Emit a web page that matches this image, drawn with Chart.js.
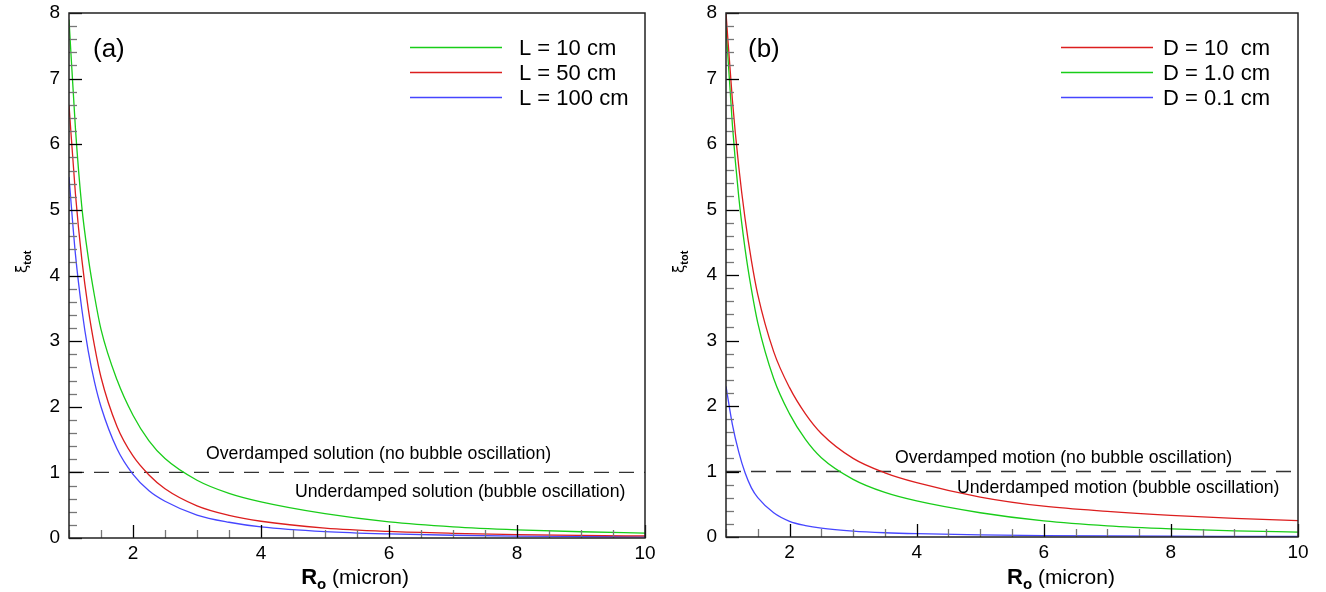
<!DOCTYPE html>
<html>
<head>
<meta charset="utf-8">
<script src="https://cdn.jsdelivr.net/npm/chart.js@4.4.0/dist/chart.umd.min.js"></script>
<style>
body{margin:0;background:#fff;width:1326px;height:592px;overflow:hidden}
.box{position:absolute;top:0;width:663px;height:592px}
</style>
</head>
<body>
<div class="box" style="left:0"><canvas id="chartA"></canvas></div>
<div class="box" style="left:663px"><canvas id="chartB"></canvas></div>
<script>
// R_o in micron, same grid for every curve
const radius = [1, 1.1, 1.2, 1.3, 1.4, 1.5, 1.75, 2, 2.25, 2.5, 3, 3.5, 4, 5, 6, 7, 8, 9, 10];

// panel (a) - tube length L
const xiL10 = [7.9, 6.25, 5.05, 4.28, 3.68, 3.18, 2.41, 1.87, 1.48, 1.21, 0.88, 0.68, 0.55, 0.37, 0.245, 0.17, 0.125, 0.095, 0.075];
const xiL50 = [6.6, 5.25, 4.25, 3.5, 2.92, 2.45, 1.7, 1.25, 0.96, 0.75, 0.49, 0.345, 0.255, 0.152, 0.1, 0.071, 0.052, 0.04, 0.031];
const xiL100 = [5.5, 4.33, 3.49, 2.85, 2.37, 2.0, 1.36, 0.97, 0.72, 0.56, 0.35, 0.24, 0.17, 0.098, 0.062, 0.042, 0.03, 0.023, 0.017];
const labelsA = ['L = 10 cm', 'L = 50 cm', 'L = 100 cm'];

// panel (b) - tube diameter D
const xiD10 = [8.0, 6.68, 5.66, 4.86, 4.22, 3.7, 2.83, 2.28, 1.88, 1.58, 1.2, 0.98, 0.83, 0.61, 0.47, 0.39, 0.33, 0.285, 0.25];
const xiD1 = [7.8, 6.3, 5.2, 4.4, 3.78, 3.27, 2.42, 1.88, 1.49, 1.21, 0.88, 0.68, 0.55, 0.37, 0.245, 0.17, 0.125, 0.095, 0.075];
const xiD01 = [2.3, 1.72, 1.3, 0.98, 0.75, 0.6, 0.37, 0.24, 0.175, 0.135, 0.09, 0.065, 0.05, 0.032, 0.022, 0.016, 0.012, 0.01, 0.008];
const labelsB = ['D = 10  cm', 'D = 1.0 cm', 'D = 0.1 cm'];

// critical damping line
const critX = [1, 10];
const critY = [1, 1];

const GREEN = 'rgb(25,205,25)';
const RED = 'rgb(220,30,30)';
const BLUE = 'rgb(70,70,255)';
const FONT = '"Liberation Sans", Arial, sans-serif';

function toPoints(xs, ys){
  return xs.map((x, i) => ({x: x, y: ys[i]}));
}

function curve(label, vals, color){
  return {label: label, data: toPoints(radius, vals), borderColor: color, borderWidth: 1.3,
    pointRadius: 0, showLine: true, cubicInterpolationMode: 'monotone', fill: false};
}

function dashed(){
  return {label: '', data: toPoints(critX, critY), borderColor: '#333', borderWidth: 1.3,
    borderDash: [15, 10], pointRadius: 0, showLine: true, fill: false};
}

// frame, inward ticks, titles, legend and notes
const decor = {
  id: 'decor',
  afterDraw(chart, args, o){
    const ctx = chart.ctx, a = chart.chartArea;
    const xs = chart.scales.x, ys = chart.scales.y;
    ctx.save();
    // inward ticks
    ys.ticks.forEach(t => {
      const major = Math.abs(t.value - Math.round(t.value)) < 1e-6;
      const py = Math.round(ys.getPixelForValue(t.value)) + 0.5;
      ctx.strokeStyle = major ? '#000' : '#777';
      ctx.lineWidth = 1.3;
      ctx.beginPath(); ctx.moveTo(a.left, py); ctx.lineTo(a.left + (major ? 13 : 8), py); ctx.stroke();
    });
    xs.ticks.forEach(t => {
      const major = Math.abs(t.value / 2 - Math.round(t.value / 2)) < 1e-6;
      const px = Math.round(xs.getPixelForValue(t.value)) + 0.5;
      ctx.strokeStyle = major ? '#000' : '#777';
      ctx.lineWidth = 1.3;
      ctx.beginPath(); ctx.moveTo(px, a.bottom); ctx.lineTo(px, a.bottom - (major ? 13 : 8)); ctx.stroke();
    });
    // frame
    ctx.strokeStyle = '#222';
    ctx.lineWidth = 1.5;
    ctx.strokeRect(a.left, a.top, a.right - a.left, a.bottom - a.top);

    ctx.fillStyle = '#000';
    ctx.textBaseline = 'alphabetic';
    ctx.textAlign = 'left';
    // panel letter
    ctx.font = `26px ${FONT}`;
    ctx.fillText(o.panel, o.panelX, 57);

    // legend
    ctx.font = `22px ${FONT}`;
    chart.data.datasets.forEach((d, i) => {
      if(!d.label) return;
      const y = 47 + i * 25;
      ctx.strokeStyle = d.borderColor;
      ctx.lineWidth = 1.5;
      ctx.beginPath(); ctx.moveTo(o.legendX, y + 0.5); ctx.lineTo(o.legendX + 92, y + 0.5); ctx.stroke();
      ctx.fillText(d.label, o.legendX + o.legendGap, y + 8);
    });

    // notes around xi = 1
    ctx.font = `17.7px ${FONT}`;
    o.notes.forEach(n => ctx.fillText(n.text, n.x, n.y + 6));

    // y title: xi_tot
    ctx.save();
    ctx.translate(a.left - 42, 262);
    ctx.rotate(-Math.PI / 2);
    ctx.font = `15px "DejaVu Sans", ${FONT}`;
    ctx.fillText('ξ', -11, 0);
    const w = ctx.measureText('ξ').width;
    ctx.font = `bold 11px ${FONT}`;
    ctx.fillText('tot', -11 + w, 4);
    ctx.restore();

    // x title: R_o (micron)
    const cx = xs.getPixelForValue(o.xTitleAt);
    ctx.font = `bold 22px ${FONT}`;
    const wR = ctx.measureText('R').width;
    ctx.font = `bold 15px ${FONT}`;
    const wO = ctx.measureText('o').width;
    ctx.font = `21px ${FONT}`;
    const wM = ctx.measureText(' (micron)').width;
    let x0 = cx - (wR + wO + wM) / 2;
    ctx.font = `bold 22px ${FONT}`;
    ctx.fillText('R', x0, 584);
    ctx.font = `bold 15px ${FONT}`;
    ctx.fillText('o', x0 + wR, 589);
    ctx.font = `21px ${FONT}`;
    ctx.fillText(' (micron)', x0 + wR + wO, 584);
    ctx.restore();
  }
};

function makeChart(id, datasets, padRight, yWidth, xHeight, deco){
  return new Chart(document.getElementById(id), {
    type: 'scatter',
    data: {datasets: datasets},
    options: {
      responsive: true,
      maintainAspectRatio: false,
      animation: false,
      layout: {padding: {top: 13, right: padRight, left: 0, bottom: 0}},
      plugins: {legend: {display: false}, tooltip: {enabled: false}, decor: deco},
      scales: {
        x: {
          type: 'linear', min: 1, max: 10,
          grid: {display: false, drawTicks: false},
          border: {display: false},
          ticks: {
            stepSize: 0.5, autoSkip: false, maxRotation: 0, padding: 4,
            color: '#000', font: {family: FONT, size: 19},
            callback: v => (Math.abs(v / 2 - Math.round(v / 2)) < 1e-6) ? String(v) : ''
          },
          afterFit: s => { s.height = xHeight; s.paddingLeft = 0; s.paddingRight = 0; }
        },
        y: {
          type: 'linear', min: 0, max: 8,
          grid: {display: false, drawTicks: false},
          border: {display: false},
          ticks: {
            stepSize: 0.2, autoSkip: false, padding: 9,
            color: '#000', font: {family: FONT, size: 19},
            callback: v => (Math.abs(v - Math.round(v)) < 1e-6) ? String(Math.round(v)) : ''
          },
          afterFit: s => { s.width = yWidth; s.paddingTop = 0; s.paddingBottom = 0; }
        }
      }
    },
    plugins: [decor]
  });
}

makeChart('chartA', [
  curve(labelsA[0], xiL10, GREEN),
  curve(labelsA[1], xiL50, RED),
  curve(labelsA[2], xiL100, BLUE),
  dashed()
], 18, 69, 54, {
  panel: '(a)', panelX: 93, legendX: 410, legendGap: 109, xTitleAt: 5.47,
  notes: [
    {text: 'Overdamped solution (no bubble oscillation)', x: 206, y: 453},
    {text: 'Underdamped solution (bubble oscillation)', x: 295, y: 491}
  ]
});

makeChart('chartB', [
  curve(labelsB[0], xiD10, RED),
  curve(labelsB[1], xiD1, GREEN),
  curve(labelsB[2], xiD01, BLUE),
  dashed()
], 28, 63, 55, {
  panel: '(b)', panelX: 85, legendX: 398, legendGap: 102, xTitleAt: 6.27,
  notes: [
    {text: 'Overdamped motion (no bubble oscillation)', x: 232, y: 457},
    {text: 'Underdamped motion (bubble oscillation)', x: 294, y: 487}
  ]
});
</script>
</body>
</html>
